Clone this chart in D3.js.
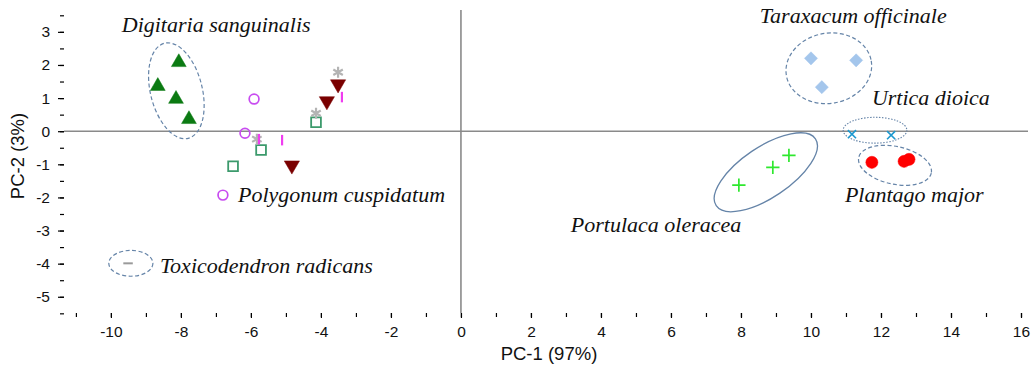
<!DOCTYPE html>
<html>
<head>
<meta charset="utf-8">
<script src="https://cdn.jsdelivr.net/npm/d3@7"></script>
<style>
  html, body { margin: 0; padding: 0; background: #fff; }
  svg { display: block; }
  .tick text { font-family: "Liberation Sans", Arial, sans-serif; }
</style>
</head>
<body>
<svg id="chart" width="1031" height="367"></svg>
<script>
// PCA score plot: PC-1 vs PC-2 for plant extracts

// Axis ticks
const xTicks = [-10, -8, -6, -4, -2, 0, 2, 4, 6, 8, 10, 12, 14, 16];
const yTicks = [-5, -4, -3, -2, -1, 0, 1, 2, 3];

// Score points per group: [PC-1, PC-2]
const digitaria   = [[-8.06, 2.08], [-8.66, 1.36], [-8.14, 0.97], [-7.77, 0.36]];
const polygonum   = [[-5.91, 0.97], [-6.17, -0.06], [-6.80, -1.93]];
const asteriskSet = [[-3.51, 1.78], [-4.14, 0.54], [-5.83, -0.24]];
const barSet      = [[-3.40, 1.03], [-5.11, -0.27], [-5.77, -0.24]];
const downTriSet  = [[-3.51, 1.42], [-3.83, 0.91], [-4.83, -1.03]];
const squareSet   = [[-4.14, 0.27], [-5.71, -0.57], [-6.51, -1.06]];
const toxicodendron = [[-9.51, -3.99]];
const taraxacum   = [[10.00, 2.20], [11.29, 2.14], [10.31, 1.33]];
const urtica      = [[11.17, -0.09], [12.29, -0.12]];
const plantago    = [[11.74, -0.94], [12.66, -0.91], [12.80, -0.85]];
const portulaca   = [[7.94, -1.63], [8.91, -1.09], [9.37, -0.73]];

// Group envelopes: centre [PC-1, PC-2], half-widths in axis units, tilt (deg)
const envelopeNames  = ["Digitaria sanguinalis", "Taraxacum officinale", "Urtica dioica", "Plantago major", "Portulaca oleracea", "Toxicodendron radicans"];
const envelopeCentre = [[-8.13, 1.22], [10.51, 1.90], [11.83, 0.03], [12.40, -1.03], [8.71, -1.24], [-9.43, -3.99]];
const envelopeRadii  = [[0.74, 1.48], [1.23, 1.06], [0.91, 0.39], [1.06, 0.57], [1.71, 0.76], [0.63, 0.39]];
const envelopeTilt   = [-14, -10, 0, 12, -34, 0];

// Species labels: text and anchor [PC-1, PC-2] of the label start
const labelText = ["Digitaria sanguinalis", "Polygonum cuspidatum", "Toxicodendron radicans", "Taraxacum officinale", "Urtica dioica", "Plantago major", "Portulaca oleracea"];
const labelPos  = [[-9.69, 2.99], [-6.37, -2.13], [-8.60, -4.29], [8.54, 3.27], [11.74, 0.79], [10.97, -2.14], [3.14, -3.05]];

const svg = d3.select("#chart");
const margin = { left: 64, right: 3, top: 10, bottom: 54 };
const W = 1031, H = 367;

const x = d3.scaleLinear().domain([-11.34, 16.2]).range([margin.left, W - margin.right]);
const y = d3.scaleLinear().domain([-5.49, 3.66]).range([H - margin.bottom, margin.top]);

// Zero reference lines
svg.append("line")
  .attr("x1", x.range()[0]).attr("x2", x.range()[1])
  .attr("y1", y(0)).attr("y2", y(0))
  .attr("stroke", "#8a8a8a").attr("stroke-width", 1.6);
svg.append("line")
  .attr("x1", x(0)).attr("x2", x(0))
  .attr("y1", y.range()[0]).attr("y2", y.range()[1])
  .attr("stroke", "#8a8a8a").attr("stroke-width", 1.6);

// Axes with minor ticks; plain hyphen for negative labels
const fmt = d => String(d);
const xAxisG = svg.append("g").attr("transform", `translate(0,${y.range()[0]})`);
xAxisG.call(d3.axisBottom(x).tickValues(d3.range(-11, 17, 1)).tickSize(4).tickFormat(""));
xAxisG.append("g").call(d3.axisBottom(x).tickValues(xTicks).tickSize(5).tickPadding(8).tickFormat(fmt));
const yAxisG = svg.append("g").attr("transform", `translate(${x.range()[0]},0)`);
yAxisG.call(d3.axisLeft(y).tickValues(d3.range(-5.5, 3.75, 0.5)).tickSize(4).tickFormat(""));
yAxisG.append("g").call(d3.axisLeft(y).tickValues(yTicks).tickSize(6).tickPadding(8).tickFormat(fmt));

[xAxisG, yAxisG].forEach(g => {
  g.selectAll(".domain").attr("stroke", "#000").attr("stroke-width", 1.4);
  g.selectAll("g .domain").remove();
  g.selectAll(".tick line").attr("stroke", "#000").attr("stroke-width", 1.2);
  g.selectAll(".tick text").attr("font-size", 15.5).attr("fill", "#111");
});
yAxisG.select(".domain").attr("d", `M0.5,${y.range()[0]}V${y.range()[1]}`);
xAxisG.select(".domain").attr("d", `M${x.range()[0]},0.5H${x.range()[1]}`);

// Axis titles
svg.append("text")
  .attr("x", 549).attr("y", 360)
  .attr("text-anchor", "middle")
  .attr("font-family", "Liberation Sans, Arial, sans-serif")
  .attr("font-size", 18.5).attr("fill", "#111")
  .text("PC-1 (97%)");
svg.append("text")
  .attr("transform", `translate(24,${y(-0.75)}) rotate(-90)`)
  .attr("text-anchor", "middle")
  .attr("font-family", "Liberation Sans, Arial, sans-serif")
  .attr("font-size", 18.5).attr("fill", "#111")
  .text("PC-2 (3%)");

// Group envelopes
const envStyle = [
  { dash: "4,2.5", w: 1.2 },
  { dash: "4,2.5", w: 1.2 },
  { dash: "1.5,1.5", w: 1.1 },
  { dash: "4,2.5", w: 1.2 },
  { dash: null, w: 1.3 },
  { dash: "4,2.5", w: 1.2 }
];
const pxPerX = x(1) - x(0), pxPerY = y(0) - y(1);
svg.append("g").selectAll("ellipse")
  .data(envelopeNames.map((n, i) => ({ n, c: envelopeCentre[i], r: envelopeRadii[i], t: envelopeTilt[i], s: envStyle[i] })))
  .join("ellipse")
  .attr("transform", d => `translate(${x(d.c[0])},${y(d.c[1])}) rotate(${d.t})`)
  .attr("rx", d => d.r[0] * pxPerX)
  .attr("ry", d => d.r[1] * pxPerY)
  .attr("fill", "none")
  .attr("stroke", "#6584a8")
  .attr("stroke-width", d => d.s.w)
  .attr("stroke-dasharray", d => d.s.dash);

// Markers
const layer = svg.append("g");
function drawSymbols(data, type, size, fill, stroke, sw, rot = 0) {
  layer.append("g").selectAll("path")
    .data(data).join("path")
    .attr("transform", d => `translate(${x(d[0])},${y(d[1])}) rotate(${rot})`)
    .attr("d", d3.symbol().type(type).size(size))
    .attr("fill", fill)
    .attr("stroke", stroke)
    .attr("stroke-width", sw);
}
// Custom glyphs: short vertical bar, dash
const barGlyph = { draw(ctx, s) { const h = Math.sqrt(s) / 2; ctx.moveTo(0, -h); ctx.lineTo(0, h); } };
const dashGlyph = { draw(ctx, s) { const h = Math.sqrt(s) / 2; ctx.moveTo(-h, 0); ctx.lineTo(h, 0); } };

drawSymbols(digitaria, d3.symbolTriangle, 95, "#0b7a12", "#0b7a12", 0.5);
drawSymbols(downTriSet, d3.symbolTriangle, 100, "#7a0000", "#7a0000", 0.5, 180);
drawSymbols(squareSet, d3.symbolSquare, 95, "none", "#3c9a6c", 1.8);
drawSymbols(polygonum, d3.symbolCircle, 75, "none", "#c84cf0", 1.7);
drawSymbols(asteriskSet, d3.symbolAsterisk, 85, "none", "#b4b4b4", 2.2);
drawSymbols(barSet, barGlyph, 110, "none", "#f03cf0", 2.2);
drawSymbols(toxicodendron, dashGlyph, 90, "none", "#9a9a9a", 2);
drawSymbols(taraxacum, d3.symbolDiamond2, 110, "#a4c6ec", "#a4c6ec", 0.5);
drawSymbols(urtica, d3.symbolX, 45, "none", "#1c98cf", 1.6);
drawSymbols(plantago, d3.symbolCircle, 115, "#ff0000", "#ff0000", 0.5);
drawSymbols(portulaca, d3.symbolPlus, 60, "none", "#2ee82e", 1.7);

// Species labels
svg.append("g").selectAll("text")
  .data(labelText.map((t, i) => ({ t, p: labelPos[i] })))
  .join("text")
  .attr("x", d => x(d.p[0]))
  .attr("y", d => y(d.p[1]))
  .attr("font-family", "Liberation Serif, 'DejaVu Serif', serif")
  .attr("font-style", "italic")
  .attr("font-size", 22)
  .attr("fill", "#111")
  .text(d => d.t);
</script>
</body>
</html>
